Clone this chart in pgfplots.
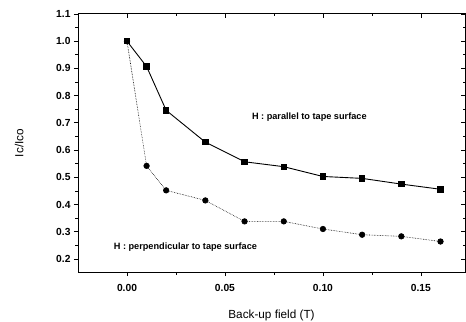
\documentclass[border=0pt]{standalone}
\usepackage{pgfplots}
\pgfplotsset{compat=1.18}
\usepackage{fontspec}
\setmainfont{Liberation Sans}
\begin{document}
\begin{tikzpicture}[x=1bp,y=1bp]
\useasboundingbox (-78,-49) rectangle (388,272);
\pgfplotsset{
  myaxis/.style={
    scale only axis, width=387bp, height=258bp,
    xmin=-0.025, xmax=0.1725, ymin=0.152, ymax=1.1,
    at={(0,0)}, anchor=south west,
  }
}
\begin{axis}[myaxis,
  axis line style={line width=1pt},
  tick align=outside, xtick pos=bottom, ytick pos=left,
  xtick={0,0.05,0.10,0.15}, minor x tick num=1,
  ytick={0.2,0.3,...,1.1}, minor y tick num=1,
  major tick length=4bp, minor tick length=2.5bp,
  tick style={line width=0.8pt, black},
  xticklabel style={font=\fontsize{10.3}{11}\selectfont\bfseries, /pgf/number format/fixed, /pgf/number format/fixed zerofill, /pgf/number format/precision=2, yshift=-5bp},
  yticklabel style={font=\fontsize{10.3}{11}\selectfont\bfseries, /pgf/number format/fixed, /pgf/number format/fixed zerofill, /pgf/number format/precision=1},
  /pgf/number format/assume math mode=true,
  scaled x ticks=false,
  xlabel={Back-up field (T)}, ylabel={Ic/Ico},
  xlabel style={font=\fontsize{11.8}{13}\selectfont, yshift=-11bp},
  ylabel style={font=\fontsize{11.8}{13}\selectfont, yshift=26bp},
  clip=false,
]
\addplot[black, line width=0.9pt, mark=square*, mark size=2.7pt] coordinates {
(0,1.0) (0.01,0.907) (0.02,0.746) (0.04,0.629) (0.06,0.557) (0.08,0.539) (0.10,0.503) (0.12,0.496) (0.14,0.475) (0.16,0.456)
};
\addplot[black, line width=0.6pt, densely dotted, mark=*, mark size=2.8pt, mark options={solid}] coordinates {
(0,1.0) (0.01,0.542) (0.02,0.452) (0.04,0.415) (0.06,0.338) (0.08,0.338) (0.10,0.310) (0.12,0.289) (0.14,0.283) (0.16,0.264)
};
\node[anchor=west, font=\fontsize{9.2}{10}\selectfont\bfseries] at (axis cs:0.062,0.722) {H : parallel to tape surface};
\node[anchor=west, font=\fontsize{9.2}{10}\selectfont\bfseries] at (axis cs:-0.0085,0.242) {H : perpendicular to tape surface};
\end{axis}
\begin{axis}[myaxis,
  axis line style={line width=1pt},
  tick align=inside, xtick pos=top, ytick pos=right,
  xtick={0,0.05,0.10,0.15}, minor x tick num=1,
  ytick={0.2,0.3,...,1.1}, minor y tick num=1,
  major tick length=4bp, minor tick length=2.5bp,
  tick style={line width=0.8pt, black},
  xticklabels={}, yticklabels={},
]
\end{axis}
\end{tikzpicture}
\end{document}
